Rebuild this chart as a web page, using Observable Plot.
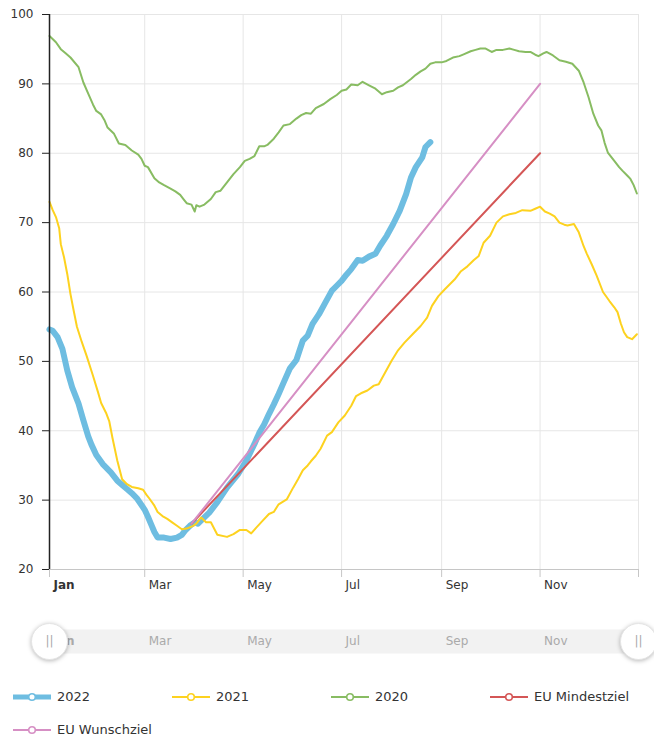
<!DOCTYPE html>
<html>
<head>
<meta charset="utf-8">
<script src="https://cdn.jsdelivr.net/npm/d3@7"></script>
<script src="https://cdn.jsdelivr.net/npm/@observablehq/plot@0.6"></script>
<style>
  body { margin: 0; background: #fff; font-family: "DejaVu Sans", sans-serif; }
  svg { display: block; }
  .nav circle { filter: drop-shadow(0 1px 2px rgba(0,0,0,0.28)); }
  #legend { padding: 10px 0 0 13px; }
  .row { display: flex; height: 33px; align-items: center; }
  .item { display: flex; align-items: center; width: 159px; font-size: 13px; color: #333; white-space: nowrap; }
  .item svg { margin-right: 6px; }
</style>
</head>
<body>
<div id="chart"></div>
<div id="nav"></div>
<div id="legend"></div>
<script>
// ---- data (x = day of year, 0 = 1 January; y = storage level in %) ----
const days2022   = [0,2,5,8,11,14,18,21,24,26,29,33,38,42,45,48,51,54,57,59,61,63,65,67,71,75,79,82,84,87,90,92,95,99,104,110,117,122,127,130,133,136,139,142,145,149,153,157,160,163,167,171,175,178,181,184,187,191,194,198,202,205,209,213,217,221,224,227,231,233,236];
const values2022 = [54.6,54.4,53.5,51.8,48.7,46.3,43.9,41.5,39.2,38.0,36.5,35.2,34.0,32.8,32.2,31.6,31.0,30.3,29.3,28.6,27.6,26.5,25.4,24.6,24.6,24.4,24.6,25.0,25.6,26.3,26.8,26.6,27.3,28.2,29.7,31.8,33.8,35.7,38.1,39.7,40.9,42.4,43.8,45.3,46.9,49.0,50.2,53.0,53.7,55.4,56.8,58.5,60.2,60.9,61.6,62.5,63.3,64.6,64.5,65.1,65.5,66.7,68.1,69.8,71.7,74.1,76.5,78.0,79.4,80.9,81.6];

const days2021   = [0,2,4,6,7,9,11,13,15,17,20,23,27,30,32,35,37,39,42,45,48,51,55,58,60,62,65,67,70,73,76,79,82,85,89,91,94,97,100,104,110,114,118,122,125,128,132,136,139,142,147,151,154,157,160,162,165,168,172,175,179,183,187,190,193,197,201,204,208,212,216,220,225,230,234,237,241,245,251,255,259,263,266,269,273,277,281,285,289,293,298,301,304,307,310,313,316,319,321,325,328,331,333,336,339,343,347,350,352,354,356,358,361,364];
const values2021 = [73.0,71.8,70.8,69.2,66.9,65.0,62.6,59.7,57.3,55.0,52.8,50.8,47.9,45.6,44.0,42.6,41.4,39.0,35.7,33.0,32.3,31.9,31.7,31.5,30.8,30.2,29.2,28.3,27.7,27.3,26.8,26.3,25.8,25.9,26.3,26.6,27.5,26.8,26.8,25.0,24.7,25.1,25.7,25.7,25.2,26.0,27.0,28.0,28.3,29.4,30.1,31.8,33.0,34.3,35.0,35.6,36.4,37.4,39.3,39.8,41.2,42.2,43.6,45.0,45.4,45.8,46.5,46.7,48.4,50.1,51.6,52.7,53.9,55.1,56.3,58.0,59.4,60.4,61.8,63.0,63.7,64.6,65.2,67.1,68.1,70.0,70.9,71.2,71.4,71.8,71.7,72.0,72.3,71.6,71.3,70.9,70.0,69.7,69.6,69.8,68.6,66.6,65.5,64.0,62.4,60.0,58.7,57.8,57.1,55.5,54.2,53.5,53.2,53.9];

const days2020   = [0,4,7,10,13,18,21,24,27,29,32,34,36,40,43,47,51,55,57,59,61,65,68,71,75,78,81,83,85,88,90,91,93,96,100,103,106,110,114,118,121,124,127,130,133,135,139,142,145,149,153,156,159,162,165,170,174,178,181,184,187,191,194,198,202,206,209,213,216,219,224,227,230,233,236,239,243,246,250,254,257,261,264,267,270,274,277,281,285,288,291,295,298,301,303,306,308,312,316,320,324,328,331,334,337,340,342,344,346,350,353,355,358,360,362,364];
const values2020 = [96.9,96.0,95.0,94.4,93.8,92.4,90.2,88.6,87.0,86.1,85.6,84.8,83.7,82.8,81.4,81.2,80.4,79.8,79.2,78.2,78.0,76.4,75.8,75.4,74.9,74.5,74.0,73.4,72.8,72.6,71.6,72.5,72.3,72.6,73.4,74.4,74.6,75.8,77.0,78.0,78.9,79.2,79.6,81.0,81.0,81.2,82.1,83.0,84.0,84.2,85.0,85.5,85.8,85.7,86.5,87.1,87.8,88.4,89.0,89.2,89.9,89.8,90.3,89.8,89.3,88.5,88.8,89.0,89.5,89.8,90.7,91.3,91.8,92.2,92.9,93.1,93.1,93.3,93.8,94.0,94.3,94.7,94.9,95.1,95.1,94.6,94.9,94.9,95.1,94.9,94.7,94.6,94.6,94.2,94.0,94.4,94.6,94.1,93.4,93.2,92.9,91.9,90.2,88.1,85.7,84.0,83.3,81.5,80.1,78.9,78.0,77.5,76.8,76.3,75.4,74.2];

const targetDays      = [88, 304];
const mindestValues   = [26.6, 80];
const wunschValues    = [26.6, 90];

const seriesNames  = ["2022", "2021", "2020", "EU Mindestziel", "EU Wunschziel"];
const monthTicks   = ["2022-01-01", "2022-03-01", "2022-05-01", "2022-07-01", "2022-09-01", "2022-11-01"];
const monthLabels  = ["Jan", "Mar", "May", "Jul", "Sep", "Nov"];
const xDomain      = ["2022-01-01", "2023-01-01"];
const yTicks       = [20, 30, 40, 50, 60, 70, 80, 90, 100];

// ---- styles ----
const colors  = ["#6ebde1", "#fdd21f", "#88bc62", "#d45656", "#d68fc4"];
const widths  = [6, 2, 2, 2, 2];

// ---- build ----
const parse = s => new Date(s + "T00:00:00Z");
const dayToDate = d => new Date(Date.UTC(2022, 0, 1 + d));
const seriesData = [
  [days2022, values2022],
  [days2021, values2021],
  [days2020, values2020],
  [targetDays, mindestValues],
  [targetDays, wunschValues]
].map(([ds, vs], i) => ds.map((d, j) => ({series: seriesNames[i], date: dayToDate(d), value: vs[j]})));

const domain = xDomain.map(parse);
const tickDates = monthTicks.map(parse);
const gridDates = tickDates.concat([domain[1]]);
const labelOf = new Map(tickDates.map((d, i) => [+d, monthLabels[i]]));
const fmt = d => labelOf.get(+d) ?? "";

const chart = Plot.plot({
  width: 654,
  height: 600,
  marginTop: 14,
  marginBottom: 31,
  marginLeft: 49,
  marginRight: 16,
  style: {fontFamily: "DejaVu Sans", fontSize: "12px", color: "#333", background: "white"},
  x: {type: "utc", domain, label: null},
  y: {domain: [20, 100], label: null},
  marks: [
    Plot.gridY(yTicks, {stroke: "#e6e6e6", strokeOpacity: 1}),
    Plot.gridX(gridDates, {stroke: "#e6e6e6", strokeOpacity: 1}),
    Plot.ruleY([20], {stroke: "#c6c6c6"}),
    Plot.axisX(gridDates, {tickSize: 8, fill: "none", stroke: "#c6c6c6"}),
    Plot.axisX(tickDates.slice(0, 1), {tickSize: 0, tickPadding: 11, textAnchor: "start", dx: 4, tickFormat: fmt, fontWeight: "bold", fill: "#333"}),
    Plot.axisX(tickDates.slice(1), {tickSize: 0, tickPadding: 11, textAnchor: "start", dx: 4, tickFormat: fmt, fill: "#333"}),
    ...seriesData.map((data, i) => Plot.line(data, {
      x: "date", y: "value", stroke: colors[i], strokeWidth: widths[i],
      strokeLinejoin: "round", strokeLinecap: "round"
    })),
    Plot.ruleX(domain.slice(0, 1), {stroke: "#222", strokeWidth: 1.5}),
    Plot.axisY(yTicks, {tickSize: 7, tickPadding: 9, stroke: "#222", fill: "#333"})
  ]
});
document.getElementById("chart").append(chart);

const nav = Plot.plot({
  width: 654,
  height: 70,
  marginTop: 29,
  marginBottom: 17,
  marginLeft: 49,
  marginRight: 16,
  className: "nav",
  style: {fontFamily: "DejaVu Sans", fontSize: "12px", background: "white"},
  x: {type: "utc", domain, label: null, axis: null},
  marks: [
    Plot.frame({fill: "#f2f2f2", stroke: null}),
    Plot.text(tickDates.slice(0, 1), {x: d => d, text: fmt, textAnchor: "start", dx: 4, fill: "#aaa", fontWeight: "bold"}),
    Plot.text(tickDates.slice(1), {x: d => d, text: fmt, textAnchor: "start", dx: 4, fill: "#aaa"}),
    Plot.dot(domain, {x: d => d, r: 18, fill: "white", stroke: "#e4e4e4", strokeWidth: 1}),
    Plot.text(domain, {x: d => d, text: () => "||", fill: "#aaa", fontSize: 12})
  ]
});
document.getElementById("nav").append(nav);

// legend
const legend = document.getElementById("legend");
const rows = [[0, 1, 2, 3], [4]];
for (const r of rows) {
  const row = document.createElement("div");
  row.className = "row";
  for (const i of r) {
    const item = document.createElement("div");
    item.className = "item";
    const lw = i === 0 ? 5 : 2;
    item.innerHTML =
      `<svg width="38" height="12"><line x1="0" x2="38" y1="6" y2="6" stroke="${colors[i]}" stroke-width="${lw}"/>` +
      `<circle cx="19" cy="6" r="3.3" fill="white" stroke="${colors[i]}" stroke-width="1.6"/></svg>` +
      `<span>${seriesNames[i]}</span>`;
    row.append(item);
  }
  legend.append(row);
}
</script>
</body>
</html>
